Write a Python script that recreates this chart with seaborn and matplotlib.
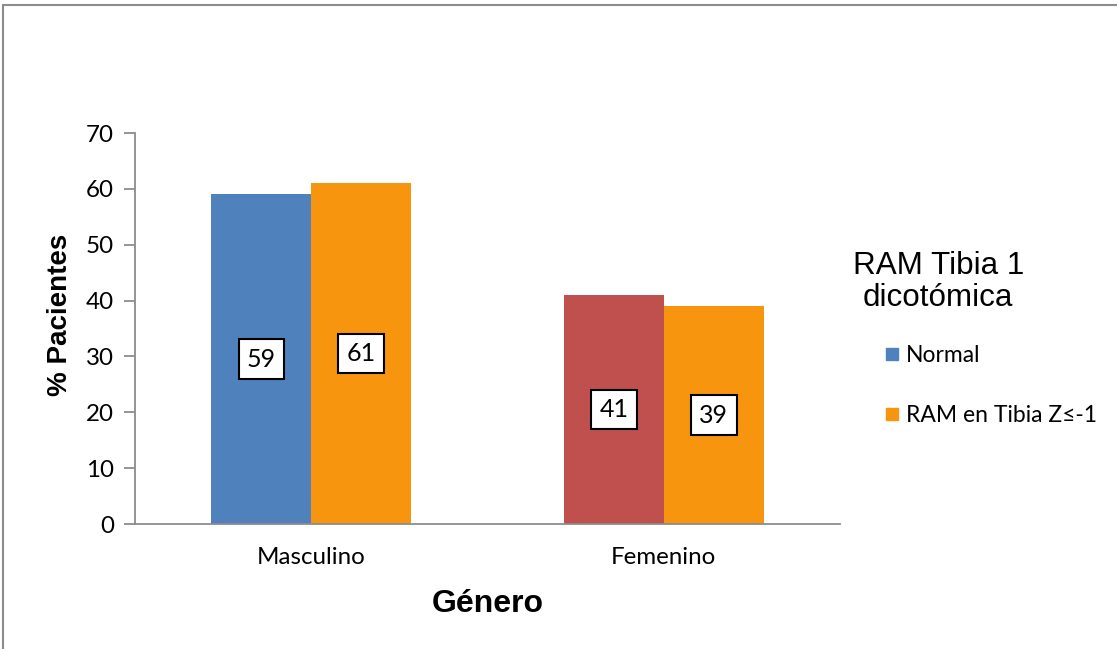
import pandas as pd
import matplotlib
matplotlib.use('Agg')
import matplotlib.pyplot as plt
import seaborn as sns
from matplotlib.patches import Rectangle
from matplotlib.lines import Line2D

# datos
generos = ['Masculino', 'Femenino']
grupos = ['Normal', 'RAM en Tibia Z≤-1']
normal = [59, 41]
ram = [61, 39]

df = pd.DataFrame({
    'Genero': generos * 2,
    'Grupo': [grupos[0]] * 2 + [grupos[1]] * 2,
    'Porcentaje': normal + ram,
})

azul = '#4F81BD'
rojo = '#C0504D'
naranja = '#F7960E'

sns.set_style('white')
plt.rcParams['font.family'] = ['Liberation Sans', 'DejaVu Sans']
plt.rcParams['text.color'] = 'black'
plt.rcParams['axes.labelcolor'] = 'black'
plt.rcParams['xtick.color'] = 'black'
plt.rcParams['ytick.color'] = 'black'
cuerpo = ['Lato', 'DejaVu Sans']

fig = plt.figure(figsize=(11.17, 6.49), dpi=100)
ax = fig.add_axes([0.1209, 0.1926, 0.6312, 0.6024])

sns.barplot(data=df, x='Genero', y='Porcentaje', hue='Grupo', order=generos,
            hue_order=grupos, palette=[azul, naranja], width=0.567,
            saturation=1, linewidth=0, ax=ax, legend=False)

# la barra "Normal" de Femenino va en rojo
ax.containers[0][1].set_facecolor(rojo)

for cont in ax.containers:
    for bar in cont:
        h = bar.get_height()
        ax.text(bar.get_x() + bar.get_width() / 2, h / 2, f'{h:.0f}',
                ha='center', va='center', fontsize=18, family=cuerpo,
                bbox=dict(boxstyle='square,pad=0.33', fc='white', ec='black', lw=1.5))

ax.set_ylim(0, 70)
ax.set_yticks(range(0, 71, 10))
ax.set_xlim(-0.5, 1.5)
for s in ['top', 'right']:
    ax.spines[s].set_visible(False)
for s in ['left', 'bottom']:
    ax.spines[s].set_color('#8C8C8C')
    ax.spines[s].set_linewidth(1.3)
ax.tick_params(axis='y', left=True, length=8, width=1.3, color='#8C8C8C',
               labelcolor='black', labelsize=17.4, pad=7)
ax.tick_params(axis='x', bottom=False, labelcolor='black', labelsize=17.4, pad=13)
for lab in ax.get_xticklabels() + ax.get_yticklabels():
    lab.set_family(cuerpo)

ax.set_ylabel('% Pacientes', fontsize=20, fontweight='bold')
ax.yaxis.set_label_coords(-0.088, 0.535)
ax.set_xlabel('Género', fontsize=23, fontweight='bold', labelpad=15)

# leyenda
fig.text(0.84, 0.565, 'RAM Tibia 1\ndicotómica', ha='center', va='center',
         multialignment='center', fontsize=22.6, linespacing=1.1)
handles = [Line2D([], [], marker='s', ls='', color=azul, markersize=9),
           Line2D([], [], marker='s', ls='', color=naranja, markersize=9)]
leg = fig.legend(handles, grupos, loc='upper left', bbox_to_anchor=(0.774, 0.50),
                 frameon=False, handlelength=0.6, handletextpad=0.3,
                 labelspacing=1.7, prop={'family': cuerpo, 'size': 16.5})

# marco gris del grafico
fig.patches.append(Rectangle((0.003, -0.05), 1.1, 1.042, transform=fig.transFigure,
                             fill=False, ec='#8C8C8C', lw=1.5))

fig.savefig('out.png', dpi=100)
